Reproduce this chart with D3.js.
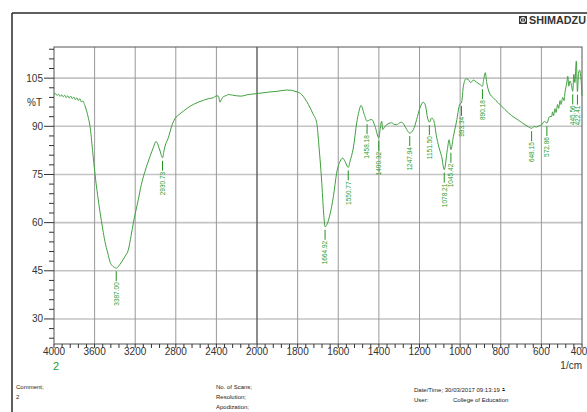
<!DOCTYPE html>
<html>
<head>
<meta charset="utf-8">
<script src="https://cdn.jsdelivr.net/npm/d3@7"></script>
<style>
  html, body { margin: 0; padding: 0; background: #fff; }
  svg { display: block; font-family: "Liberation Sans", Arial, sans-serif; }
</style>
</head>
<body>
<svg id="chart" width="587" height="412"></svg>
<script>
// FTIR transmittance spectrum, sample 2
const wavenumbers = [
  4000, 3985, 3970, 3955, 3940, 3925, 3910, 3895, 3880, 3865, 3850, 3835, 3820, 3805,
  3790, 3775, 3760, 3745, 3730, 3715, 3700, 3690, 3678, 3660, 3645, 3620, 3596, 3570,
  3547, 3520, 3498, 3470, 3448, 3420, 3405, 3387.00, 3365, 3333, 3300, 3268, 3240, 3219,
  3195, 3170, 3140, 3104, 3080, 3054, 3020, 2995, 2975, 2955, 2930.73, 2915, 2906, 2874,
  2841, 2808, 2770, 2726, 2680, 2628, 2580, 2529, 2480, 2431, 2395, 2380, 2365, 2350,
  2333, 2300, 2283, 2240, 2200, 2160, 2135, 2100, 2050, 2000, 1936, 1900, 1854, 1830,
  1813, 1790, 1780, 1765, 1747, 1735, 1723, 1706, 1695, 1682, 1672, 1664.92, 1652, 1641,
  1624, 1608, 1591, 1578, 1567, 1550.77, 1542, 1526, 1509, 1498, 1488, 1472, 1458.18,
  1445, 1435, 1419, 1400.32, 1394, 1386, 1381, 1370, 1361, 1350, 1337, 1325, 1312, 1300,
  1288, 1275, 1263, 1247.94, 1230, 1214, 1198, 1181, 1170, 1160, 1151.50, 1140, 1130,
  1115, 1100, 1091, 1078.21, 1063, 1054, 1045.42, 1033, 1016, 1005, 1000, 993.34, 984,
  971, 960, 948, 935, 918, 902, 890.18, 884, 876, 869, 856, 837, 812, 779, 746, 713, 681,
  665, 648.15, 635, 623, 610, 598, 585, 572.86, 560, 549, 545, 540, 533, 528, 520, 515,
  508, 503, 495, 488, 484, 475, 470, 465, 459, 452, 445.56, 440, 435, 428, 422.41, 417,
  412, 406, 402, 400
];
const transmittance = [
  99.9, 100.2, 99.6, 100.0, 99.3, 99.8, 99.2, 99.7, 98.9, 99.5, 98.8, 99.4, 98.6, 99.1,
  98.3, 98.9, 98.0, 98.6, 97.6, 97.9, 96.8, 96.0, 94.7, 92.4, 90.0, 82.5, 75.1, 68.5,
  63.4, 58.0, 54.1, 50.5, 47.8, 46.4, 46.1, 45.8, 46.4, 47.8, 49.5, 51.5, 56.0, 59.8,
  63.5, 67.1, 71.8, 75.9, 78.3, 80.6, 83.5, 85.3, 84.2, 82.3, 80.2, 82.6, 83.8, 86.4,
  90.0, 92.4, 93.6, 94.7, 95.8, 96.8, 97.5, 98.1, 98.6, 98.9, 99.5, 99.4, 97.5, 98.4,
  99.2, 99.6, 99.9, 99.7, 99.5, 99.4, 99.5, 99.8, 100.0, 100.2, 100.7, 100.9, 101.3, 101.2,
  100.9, 100.4, 99.9, 98.7, 96.8, 95.3, 93.7, 91.1, 83.8, 73.3, 63.0, 58.7, 60.0, 62.5,
  68.1, 75.4, 79.1, 80.1, 79.1, 77.2, 79.1, 83.2, 91.1, 94.7, 96.5, 93.7, 91.6,
  92.0, 92.1, 90.0, 86.4, 89.0, 91.6, 89.0, 90.0, 90.5, 90.9, 91.1, 90.6, 90.5, 91.0,
  91.3, 90.4, 89.0, 87.9, 89.0, 92.1, 95.7, 97.5, 96.3, 92.5, 91.3, 92.6, 91.8,
  86.4, 82.5, 80.6, 76.5, 82.7, 85.8, 82.7, 86.9, 92.1, 96.2, 97.0, 97.3, 102.5,
  104.8, 104.6, 103.6, 104.4, 103.7, 103.0, 102.5, 104.6, 106.7, 103.6, 100.4, 98.9, 97.3, 95.2, 93.3, 91.9, 90.5,
  89.9, 89.4, 89.9, 89.8, 90.2, 90.5, 91.5, 91.0, 93.0, 93.1, 94.5, 93.3, 95.5, 94.3, 96.8, 95.6,
  98.0, 96.8, 99.0, 98.0, 100.4, 103.5, 105.6, 102.5, 104.1, 102.8, 100.9, 106.2, 103.6, 110.3, 100.8, 106.5,
  107.5, 105.5, 102.0, 99.5
];
// Labelled absorption bands
const peakWavenumbers = [3387.00, 2930.73, 1664.92, 1550.77, 1458.18, 1400.32, 1247.94, 1151.50,
  1078.21, 1045.42, 993.34, 890.18, 648.15, 572.86, 445.56, 422.41];
const peakTransmittance = [45.8, 80.2, 58.7, 77.2, 91.6, 86.4, 87.9, 91.3,
  76.5, 82.7, 97.3, 102.5, 89.4, 91.0, 100.9, 100.8];

const xMajorTicks = [4000, 3600, 3200, 2800, 2400, 2000, 1800, 1600, 1400, 1200, 1000, 800, 600, 400];
const yMajorTicks = [30, 45, 60, 75, 90, 105];

const svg = d3.select("#chart");
const plot = { left: 54, right: 582, top: 47, bottom: 344 };

// Instrument-style axis: 4000-2000 compressed, 2000-400 expanded
const x = d3.scaleLinear().domain([4000, 2000, 400]).range([plot.left, 257, plot.right]);
const y = d3.scaleLinear().domain([22.2, 114.7]).range([plot.bottom, plot.top]);

// Outer page frame
svg.append("line").attr("x1", 12).attr("x2", 587).attr("y1", 13).attr("y2", 13)
  .attr("stroke", "#2a2a2a").attr("stroke-width", 1.5);
svg.append("line").attr("x1", 12).attr("x2", 12).attr("y1", 13).attr("y2", 412)
  .attr("stroke", "#2a2a2a").attr("stroke-width", 1.5);

// Logo
const logo = svg.append("g").attr("transform", "translate(519,16)");
logo.append("rect").attr("width", 8).attr("height", 8).attr("fill", "#333");
logo.append("circle").attr("cx", 4).attr("cy", 4).attr("r", 2.6).attr("fill", "none").attr("stroke", "#fff").attr("stroke-width", 0.9);
logo.append("line").attr("x1", 4).attr("x2", 4).attr("y1", 1).attr("y2", 7).attr("stroke", "#fff").attr("stroke-width", 0.9);
svg.append("text").attr("x", 529).attr("y", 24.3).text("SHIMADZU")
  .attr("font-size", 10).attr("font-weight", "bold").attr("fill", "#333")
  .attr("textLength", 57).attr("lengthAdjust", "spacingAndGlyphs");

// Grid
const grid = svg.append("g");
grid.selectAll("line.h").data(yMajorTicks).join("line")
  .attr("x1", plot.left).attr("x2", plot.right)
  .attr("y1", d => y(d)).attr("y2", d => y(d))
  .attr("stroke", "#c4c4c4").attr("stroke-width", 1.6);
grid.selectAll("line.v").data(xMajorTicks.filter(d => d !== 4000 && d !== 400)).join("line")
  .attr("x1", d => x(d)).attr("x2", d => x(d))
  .attr("y1", plot.top).attr("y2", plot.bottom)
  .attr("stroke", d => d === 2000 ? "#666" : "#999")
  .attr("stroke-width", d => d === 2000 ? 1.5 : 1);

// Plot frame
svg.append("rect").attr("x", plot.left).attr("y", plot.top)
  .attr("width", plot.right - plot.left).attr("height", plot.bottom - plot.top)
  .attr("fill", "none").attr("stroke", "#555").attr("stroke-width", 1);

// Y axis ticks and labels
const yMinor = d3.range(24, 115, 3);
svg.append("g").selectAll("line").data(yMinor).join("line")
  .attr("x1", d => yMajorTicks.includes(d) ? 44 : 49).attr("x2", plot.left)
  .attr("y1", d => y(d)).attr("y2", d => y(d))
  .attr("stroke", "#333").attr("stroke-width", 1);
svg.append("g").selectAll("text").data(yMajorTicks).join("text")
  .attr("x", 43).attr("y", d => y(d)).attr("dy", "0.35em")
  .attr("text-anchor", "end").attr("font-size", 10).attr("fill", "#333")
  .text(d => d);
svg.append("text").attr("x", 42).attr("y", 102).attr("dy", "0.35em")
  .attr("text-anchor", "end").attr("font-size", 10).attr("fill", "#333").text("%T");

// X axis ticks and labels
const xMinor = d3.range(4000, 1999, -80).concat(d3.range(1960, 399, -40));
svg.append("g").selectAll("line").data(xMinor).join("line")
  .attr("x1", d => x(d)).attr("x2", d => x(d))
  .attr("y1", plot.bottom).attr("y2", plot.bottom + 4)
  .attr("stroke", "#333").attr("stroke-width", 1);
svg.append("g").selectAll("text").data(xMajorTicks).join("text")
  .attr("x", d => d === 400 ? x(d) - 3 : x(d)).attr("y", 355)
  .attr("text-anchor", "middle").attr("font-size", 10).attr("fill", "#333")
  .text(d => d);
svg.append("text").attr("x", 582).attr("y", 369).attr("text-anchor", "end")
  .attr("font-size", 10).attr("fill", "#333").text("1/cm");
svg.append("text").attr("x", 56).attr("y", 370).attr("text-anchor", "middle")
  .attr("font-size", 11).attr("fill", "#2a9d2a").text("2");

// Spectrum
const spectrum = wavenumbers.map((w, i) => [w, transmittance[i]]);
svg.append("path").datum(spectrum)
  .attr("fill", "none").attr("stroke", "#3fa03f").attr("stroke-width", 1)
  .attr("stroke-linejoin", "round")
  .attr("d", d3.line().x(d => x(d[0])).y(d => y(d[1])).curve(d3.curveMonotoneX));

// Peak markers: short leader below the band, value written vertically
const fmt = d3.format(".2f");
const peaks = svg.append("g");
peakWavenumbers.forEach((w, i) => {
  const px = x(w), py = y(peakTransmittance[i]);
  peaks.append("line").attr("x1", px).attr("x2", px)
    .attr("y1", py + 3).attr("y2", py + 13)
    .attr("stroke", "#1f931f").attr("stroke-width", 1);
  peaks.append("text")
    .attr("transform", `translate(${px},${py + 14}) rotate(-90)`)
    .attr("text-anchor", "end").attr("dy", "0.35em")
    .attr("font-size", 6.5).attr("fill", "#2a9d2a")
    .text(fmt(w));
});

// Footer information
const foot = svg.append("g").attr("font-size", 6).attr("fill", "#222");
foot.append("text").attr("x", 16).attr("y", 389).text("Comment;");
foot.append("text").attr("x", 16).attr("y", 399).text("2");
foot.append("text").attr("x", 216).attr("y", 389).text("No. of Scans;");
foot.append("text").attr("x", 216).attr("y", 399).text("Resolution;");
foot.append("text").attr("x", 216).attr("y", 408.5).text("Apodization;");
foot.append("text").attr("x", 414).attr("y", 391.5).text("Date/Time; 30/03/2017 09:13:19 ﾕ");
foot.append("text").attr("x", 414).attr("y", 401.5).text("User:");
foot.append("text").attr("x", 453).attr("y", 401.5).text("College of Education");
</script>
</body>
</html>
